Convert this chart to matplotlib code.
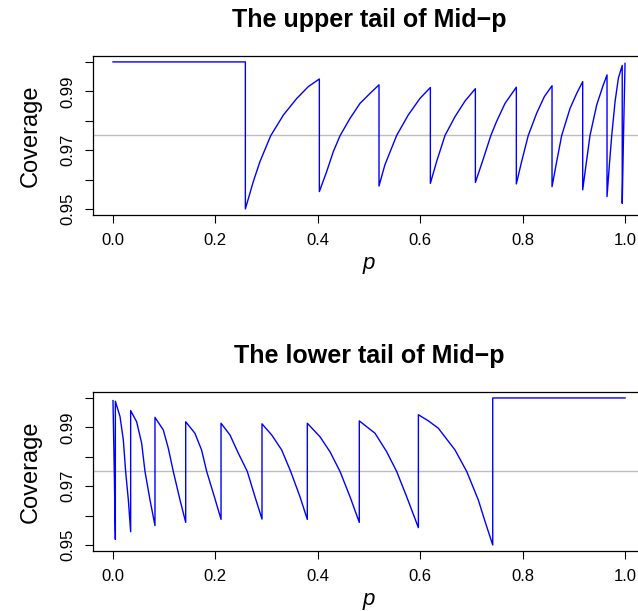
import matplotlib
matplotlib.use("Agg")
import matplotlib.pyplot as plt
from matplotlib.ticker import FixedLocator

plt.rcParams["font.family"] = ["Liberation Sans", "DejaVu Sans"]

# upper tail: coverage vs p (jumps repeat the p value)
upper_p = [0.0, 0.2585, 0.2585,
           0.274, 0.287, 0.308, 0.333, 0.359, 0.3815, 0.403, 0.403,
           0.4173, 0.4303, 0.4434, 0.4629, 0.4824, 0.502, 0.5195, 0.5195,
           0.531, 0.554, 0.5768, 0.5996, 0.6198, 0.6198,
           0.632, 0.6484, 0.668, 0.6875, 0.7077, 0.7077,
           0.722, 0.738, 0.749, 0.7656, 0.7877, 0.7877,
           0.798, 0.811, 0.8275, 0.8424, 0.8574, 0.8574,
           0.8665, 0.8763, 0.8926, 0.9056, 0.9173, 0.9173,
           0.9238, 0.9316, 0.9447, 0.9564, 0.9648, 0.9648,
           0.9694, 0.974, 0.9805, 0.987, 0.9945, 0.9945,
           0.997, 1.0]
upper_cov = [1.0, 1.0, 0.950,
             0.9593, 0.9661, 0.9749, 0.9820, 0.9876, 0.9916, 0.9942, 0.9559,
             0.9627, 0.9695, 0.9749, 0.9808, 0.9859, 0.9893, 0.9922, 0.9578,
             0.9650, 0.9750, 0.9820, 0.9876, 0.9913, 0.9587,
             0.9661, 0.9750, 0.9814, 0.9867, 0.9909, 0.9590,
             0.9664, 0.9750, 0.9797, 0.9859, 0.9914, 0.9585,
             0.9661, 0.9750, 0.9826, 0.9882, 0.9919, 0.9576,
             0.9661, 0.9750, 0.9842, 0.9893, 0.9933, 0.9565,
             0.9650, 0.9750, 0.9854, 0.9916, 0.9956, 0.9542,
             0.9650, 0.9750, 0.9865, 0.9945, 0.9988, 0.9519,
             0.9750, 0.9995]

# lower tail
lower_p = [0.0, 0.0025, 0.0046, 0.0046,
           0.0137, 0.0202, 0.0247, 0.030, 0.0345, 0.0345,
           0.0462, 0.056, 0.0625, 0.0723, 0.082, 0.082,
           0.0983, 0.108, 0.1178, 0.1309, 0.142, 0.142,
           0.160, 0.173, 0.183, 0.198, 0.211, 0.211,
           0.2285, 0.2448, 0.2623, 0.2773, 0.291, 0.291,
           0.310, 0.3295, 0.347, 0.3652, 0.3795, 0.3795,
           0.4043, 0.4238, 0.4434, 0.4629, 0.481, 0.481,
           0.5117, 0.5345, 0.554, 0.5736, 0.5964, 0.5964,
           0.616, 0.6354, 0.668, 0.6908, 0.7135, 0.7266, 0.7416, 0.7416,
           1.0]
lower_cov = [0.9991, 0.9750, 0.9519, 0.9989,
             0.9937, 0.9857, 0.9750, 0.9653, 0.9545, 0.9957,
             0.9919, 0.9846, 0.9750, 0.9653, 0.9566, 0.9934,
             0.9891, 0.9829, 0.9750, 0.9653, 0.9577, 0.9919,
             0.9880, 0.9823, 0.9750, 0.9664, 0.9587, 0.9914,
             0.9874, 0.9812, 0.9750, 0.9664, 0.9588, 0.9912,
             0.9874, 0.9823, 0.9750, 0.9664, 0.9587, 0.9914,
             0.9868, 0.9817, 0.9750, 0.9664, 0.9577, 0.9922,
             0.9880, 0.9817, 0.9750, 0.9664, 0.9559, 0.9943,
             0.9922, 0.9897, 0.9823, 0.9750, 0.9653, 0.9580, 0.950, 1.0,
             1.0]

target = 0.975
xticks = [0.0, 0.2, 0.4, 0.6, 0.8, 1.0]
yticks = [0.95, 0.96, 0.97, 0.98, 0.99, 1.00]
ylabels = ["0.95", "", "0.97", "", "0.99", ""]

fig = plt.figure(figsize=(6.38, 6.11), dpi=100)

panels = [
    ("The upper tail of Mid\u2212p", upper_p, upper_cov, [0.145, 0.6484, 0.8668, 0.2599]),
    ("The lower tail of Mid\u2212p", lower_p, lower_cov, [0.145, 0.0984, 0.8668, 0.2599]),
]

for title, px, cov, pos in panels:
    ax = fig.add_axes(pos)
    ax.axhline(target, color="#BEBEBE", lw=1.0)
    ax.plot(px, cov, color="#0000FF", lw=1.0, solid_joinstyle="round")
    ax.set_xlim(-0.04, 1.04)
    ax.set_ylim(0.948, 1.002)
    ax.xaxis.set_major_locator(FixedLocator(xticks))
    ax.set_xticklabels([f"{t:.1f}" for t in xticks])
    ax.yaxis.set_major_locator(FixedLocator(yticks))
    ax.set_yticklabels(ylabels, rotation=90, va="center")
    ax.tick_params(direction="out", length=6, width=0.8, labelsize=12, pad=7)
    ax.tick_params(axis="y", pad=6)
    for s in ax.spines.values():
        s.set_linewidth(0.9)
    ax.set_xlabel("p", fontsize=16, style="italic", labelpad=4)
    ax.set_ylabel("Coverage", fontsize=17, labelpad=14)
    ax.set_title(title, fontsize=18, fontweight="bold", pad=21)

fig.savefig("out.png", dpi=100)
